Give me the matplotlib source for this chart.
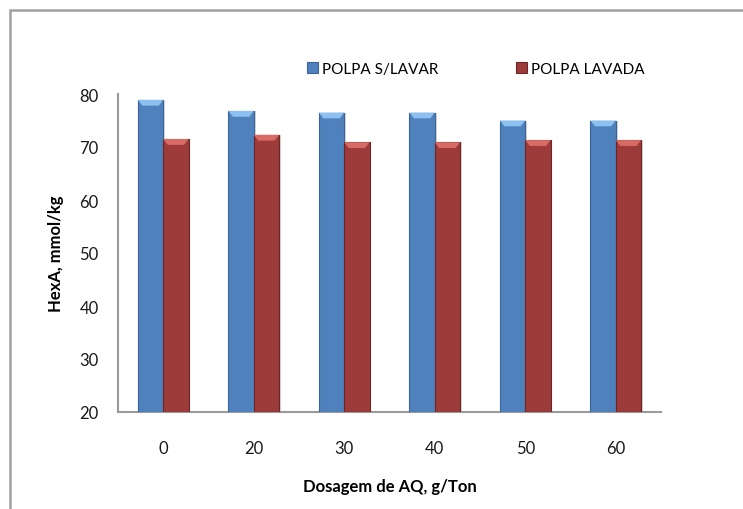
import numpy as np
import matplotlib.pyplot as plt
from matplotlib.patches import Polygon, Rectangle

plt.rcParams['font.family'] = ['Lato', 'DejaVu Sans']

# Dosagem de AQ (g/Ton) e HexA (mmol/kg)
dosagem = ['0', '20', '30', '40', '50', '60']
polpa_s_lavar = [78.9, 76.8, 76.5, 76.5, 75.0, 75.0]
polpa_lavada = [71.5, 72.3, 70.9, 70.9, 71.3, 71.3]

cor_azul = '#4f81bd'
cor_vermelho = '#9c3b39'


def bisel(ax, barras, cor_topo):
    # tampa clara no topo de cada barra, estilo excel
    for b in barras:
        x0 = b.get_x()
        w = b.get_width()
        y1 = b.get_y() + b.get_height()
        h = 1.1
        pts = [(x0, y1), (x0 + w, y1), (x0 + w - 0.05, y1 - h), (x0 + 0.05, y1 - h)]
        ax.add_patch(Polygon(pts, closed=True, facecolor=cor_topo, edgecolor='none', zorder=4))


fig = plt.figure(figsize=(7.43, 5.1), dpi=100)
ax = fig.add_axes([118 / 743, 1 - 413 / 510, 543 / 743, 318 / 510])

x = np.arange(len(dosagem))
w = 0.28
base = 20

# sombra
ax.bar(x - w / 2 + 0.02, np.array(polpa_s_lavar) - base, w, bottom=base,
       color='#d8d8d8', zorder=1)
ax.bar(x + w / 2 + 0.02, np.array(polpa_lavada) - base, w, bottom=base,
       color='#d8d8d8', zorder=1)

b1 = ax.bar(x - w / 2, np.array(polpa_s_lavar) - base, w, bottom=base,
            color=cor_azul, edgecolor='#3a6496', linewidth=0.8, zorder=3,
            label='POLPA S/LAVAR')
b2 = ax.bar(x + w / 2, np.array(polpa_lavada) - base, w, bottom=base,
            color=cor_vermelho, edgecolor='#6e2726', linewidth=0.8, zorder=3,
            label='POLPA LAVADA')
bisel(ax, b1, '#8cc0f0')
bisel(ax, b2, '#d96b66')

ax.set_ylim(20, 80)
ax.set_xlim(-0.5, len(dosagem) - 0.5)
ax.set_yticks(np.arange(20, 81, 10))
ax.set_xticks(x)
ax.set_xticklabels(dosagem)
ax.tick_params(axis='both', length=0, labelsize=12, colors='#1a1a1a')
ax.tick_params(axis='y', pad=14)
ax.tick_params(axis='x', pad=20)

for s in ['top', 'right']:
    ax.spines[s].set_visible(False)
for s in ['left', 'bottom']:
    ax.spines[s].set_color('#9a9a9a')
    ax.spines[s].set_linewidth(1.5)

ax.set_ylabel('HexA, mmol/kg', fontsize=12, fontweight='bold', labelpad=11)
ax.set_xlabel('Dosagem de AQ, g/Ton', fontsize=12, fontweight='bold', labelpad=16)

fig.legend(handles=[b1, b2], loc='center', bbox_to_anchor=(476 / 743, 1 - 70 / 510),
           ncol=2, frameon=False, fontsize=11, handlelength=0.7, handleheight=0.7,
           handletextpad=0.3, columnspacing=5.05)

# moldura externa
fig.add_artist(Rectangle((10 / 743, -0.05), 1.0, 1 - 11 / 510 + 0.05,
                         transform=fig.transFigure, fill=False,
                         edgecolor='#a0a0a0', linewidth=1.8))

fig.savefig('out.png', dpi=100)
